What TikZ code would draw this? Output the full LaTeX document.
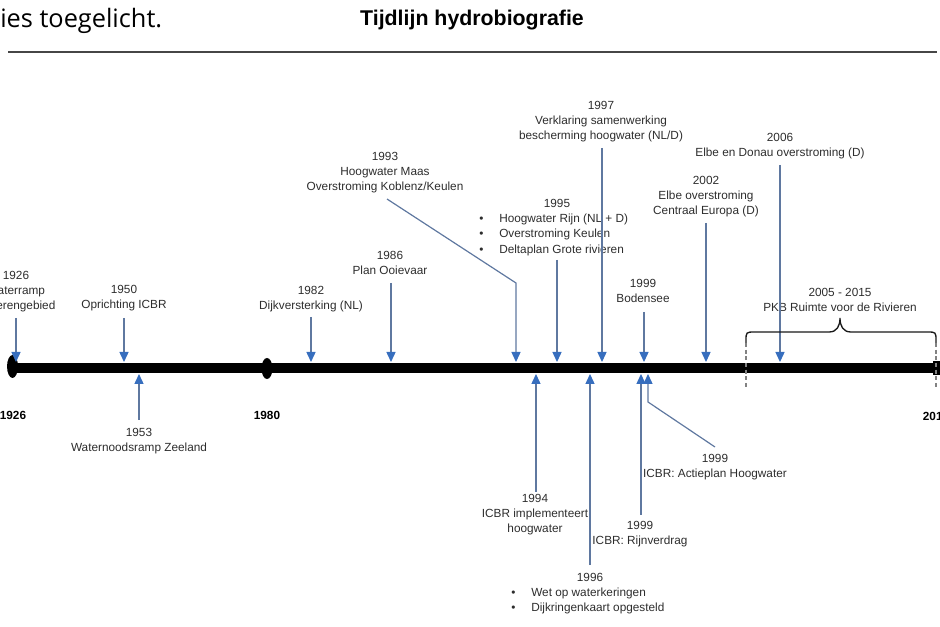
\documentclass[tikz,border=0pt]{standalone}
\usepackage{fontspec}
\setmainfont{Liberation Sans}
\newfontfamily\introfont{Open Sans}
\usetikzlibrary{arrows.meta}
\definecolor{txtc}{RGB}{45,45,45}
\definecolor{linec}{RGB}{95,120,160}
\definecolor{headc}{RGB}{55,110,190}
\definecolor{rulec}{RGB}{70,70,70}
\definecolor{dashc}{RGB}{130,130,130}
\newcommand\labfont{\fontsize{8.85}{11.5}\selectfont}
\newcommand\bul{\makebox[15pt][l]{\textbullet}}
\begin{document}
\begin{tikzpicture}[x=0.75pt,y=-0.75pt,
  lab/.style={font=\labfont,text=txtc,align=center,inner sep=0pt,anchor=north},
  blist/.style={font=\labfont,text=txtc,align=left,inner sep=0pt,anchor=north west},
  yearmark/.style={font=\labfont\bfseries,text=black,inner sep=0pt},
  arr/.style={draw=linec,line width=0.9pt,-{Triangle[length=7.5pt,width=6.8pt,color=headc,fill=headc]}},
  bracestyle/.style={draw=black!90,line width=1pt},
  dashmark/.style={draw=dashc,line width=1pt,dash pattern=on 3pt off 2pt}]
\path[use as bounding box] (0,0) rectangle (940,627);

% header
\node[anchor=base west,inner sep=0pt,font=\introfont\fontsize{19}{22}\selectfont,text=black] (intro) at (0,28) {ies toegelicht.};
\node[anchor=base,inner sep=0pt,font=\fontsize{16}{19}\selectfont\bfseries,text=black] (title) at (472,26) {Tijdlijn hydrobiografie};
\coordinate (ruleL) at (8,52);
\coordinate (ruleR) at (937,52);
\draw[rulec,line width=1.5pt] (ruleL) -- (ruleR);

% timeline bar
\coordinate (barL) at (12,368);
\coordinate (barR) at (934,368);
\draw[line width=7.5pt] (barL) -- (barR);
\fill (12.5,366.5) ellipse [x radius=4.1pt,y radius=8.6pt];
\fill (267,368.5) ellipse [x radius=4.1pt,y radius=7.9pt];
\fill (933,361) rectangle (940,375);

% year marks
\node[yearmark] (y1926) at (13,415) {1926};
\node[yearmark] (y1980) at (267,415) {1980};
\node[yearmark] (y2015) at (936,416) {2015};

% labels above
\node[lab] (l1926) at (16,270.8) {1926\\Waterramp\\Rivierengebied};
\node[lab] (l1950) at (124,284.8) {1950\\Oprichting ICBR};
\node[lab] (l1982) at (311,285.8) {1982\\Dijkversterking (NL)};
\node[lab] (l1986) at (390,250.8) {1986\\Plan Ooievaar};
\node[lab] (l1993) at (385,151.8) {1993\\Hoogwater Maas\\Overstroming Koblenz/Keulen};
\node[lab] (l1995) at (557,198.8) {1995};
\node[blist] (l1995b) at (479,213.8) {\bul Hoogwater Rijn (NL + D)\\\bul Overstroming Keulen\\\bul Deltaplan Grote rivieren};
\node[lab] (l1997) at (601,100.8) {1997\\Verklaring samenwerking\\bescherming hoogwater (NL/D)};
\node[lab] (l1999b) at (643,278.8) {1999\\Bodensee};
\node[lab] (l2002) at (706,175.8) {2002\\Elbe overstroming\\Centraal Europa (D)};
\node[lab] (l2006) at (780,132.8) {2006\\Elbe en Donau overstroming (D)};
\node[lab] (lpkb) at (840,287.8) {2005 - 2015\\PKB Ruimte voor de Rivieren};

% labels below
\node[lab] (l1953) at (139,427.8) {1953\\Waternoodsramp Zeeland};
\node[lab] (l1994) at (535,493.8) {1994\\ICBR implementeert\\hoogwater};
\node[lab] (l1996) at (590,572.8) {1996};
\node[blist] (l1996b) at (511,587.8) {\bul Wet op waterkeringen\\\bul Dijkringenkaart opgesteld};
\node[lab] (l1999r) at (640,520.8) {1999\\ICBR: Rijnverdrag};
\node[lab] (l1999a) at (715,453.8) {1999\\ICBR: Actieplan Hoogwater};

% connector points
\coordinate (s1926) at (16,318);   \coordinate (t1926) at (16,362);
\coordinate (s1950) at (124,318);  \coordinate (t1950) at (124,362);
\coordinate (s1982) at (311,317);  \coordinate (t1982) at (311,362);
\coordinate (s1986) at (391,283);  \coordinate (t1986) at (391,362);
\coordinate (s1993) at (387,199);  \coordinate (k1993) at (516,283); \coordinate (t1993) at (516,362);
\coordinate (s1995) at (557,260);  \coordinate (t1995) at (557,362);
\coordinate (s1997) at (602,148);  \coordinate (t1997) at (602,362);
\coordinate (s1999b) at (644,312); \coordinate (t1999b) at (644,362);
\coordinate (s2002) at (706,223);  \coordinate (t2002) at (706,362);
\coordinate (s2006) at (780,165);  \coordinate (t2006) at (780,362);
\coordinate (s1953) at (139,420);  \coordinate (t1953) at (139,374);
\coordinate (s1994) at (536,492);  \coordinate (t1994) at (536,374);
\coordinate (s1996) at (590,565);  \coordinate (t1996) at (590,374);
\coordinate (s1999r) at (641,515); \coordinate (t1999r) at (641,374);
\coordinate (s1999a) at (715,447); \coordinate (k1999a) at (648,402); \coordinate (t1999a) at (648,374);

% arrows
\draw[arr] (s1926) -- (t1926);
\draw[arr] (s1950) -- (t1950);
\draw[arr] (s1982) -- (t1982);
\draw[arr] (s1986) -- (t1986);
\draw[arr] (s1993) -- (k1993) -- (t1993);
\draw[arr] (s1995) -- (t1995);
\draw[arr] (s1997) -- (t1997);
\draw[arr] (s1999b) -- (t1999b);
\draw[arr] (s2002) -- (t2002);
\draw[arr] (s2006) -- (t2006);
\draw[arr] (s1953) -- (t1953);
\draw[arr] (s1994) -- (t1994);
\draw[arr] (s1996) -- (t1996);
\draw[arr] (s1999r) -- (t1999r);
\draw[arr] (s1999a) -- (k1999a) -- (t1999a);

% brace and dashed bounds
\coordinate (bl) at (746,343);
\coordinate (br) at (936,343);
\coordinate (btip) at (840,318);
\draw[bracestyle] (bl) -- (746,341) .. controls (746,332) .. (755,332) -- (829,332)
  .. controls (837,332) and (840,326) .. (btip)
  .. controls (840,326) and (843,332) .. (851,332) -- (927,332)
  .. controls (936,332) .. (936,341) -- (br);
\draw[dashmark] (746,343) -- (746,387);
\draw[dashmark] (936,343) -- (936,387);
\end{tikzpicture}
\end{document}
